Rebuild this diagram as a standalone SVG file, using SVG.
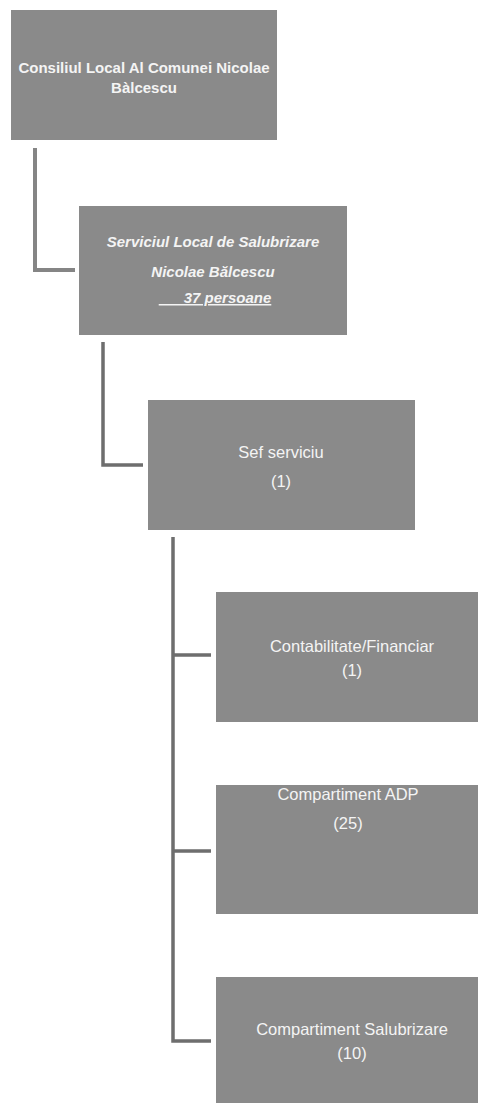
<svg xmlns="http://www.w3.org/2000/svg" width="478" height="1103" viewBox="0 0 478 1103">
<style>
.box{fill:#8a8a8a;}
.t{font-family:"Liberation Sans",Arial,sans-serif;fill:#f4f4f4;text-anchor:middle;font-size:16.5px;}
.b{font-weight:bold;font-size:15px;}
.i{font-style:italic;}
.u{text-decoration:underline;}
.c1{fill:none;stroke:#858585;stroke-width:4;}
.c2{fill:none;stroke:#6e6e6e;stroke-width:3.5;}
</style>
<rect width="478" height="1103" fill="#ffffff"/>
<g id="connectors">
<path class="c1" d="M35,148 V270 H75"/>
<path class="c2" d="M103,342 V465 H143"/>
<path class="c2" d="M173,537 V1041 H211 M173,655 H211 M173,851 H211"/>
</g>
<g id="node-consiliu">
<rect class="box" x="11" y="10" width="266" height="130"/>
<text class="t b" x="144" y="73">Consiliul Local Al Comunei Nicolae</text>
<text class="t b" x="144" y="93">Bàlcescu</text>
</g>
<g id="node-serviciu">
<rect class="box" x="79" y="206" width="268" height="129"/>
<text class="t b i" x="213" y="247">Serviciul Local de Salubrizare</text>
<text class="t b i" x="213" y="277">Nicolae Bălcescu</text>
<text class="t b i u" x="215" y="303">&#160;&#160;&#160;&#160;&#160;&#160;37 persoane</text>
</g>
<g id="node-sef">
<rect class="box" x="148" y="400" width="267" height="130"/>
<text class="t" x="281" y="458">Sef serviciu</text>
<text class="t" x="281" y="487">(1)</text>
</g>
<g id="node-contabilitate">
<rect class="box" x="216" y="592" width="262" height="130"/>
<text class="t" x="352" y="652">Contabilitate/Financiar</text>
<text class="t" x="352" y="676">(1)</text>
</g>
<g id="node-adp">
<rect class="box" x="216" y="785" width="262" height="129"/>
<text class="t" x="348" y="800">Compartiment ADP</text>
<text class="t" x="348" y="829">(25)</text>
</g>
<g id="node-salubrizare">
<rect class="box" x="216" y="977" width="262" height="126"/>
<text class="t" x="352" y="1035">Compartiment Salubrizare</text>
<text class="t" x="352" y="1059">(10)</text>
</g>
</svg>
